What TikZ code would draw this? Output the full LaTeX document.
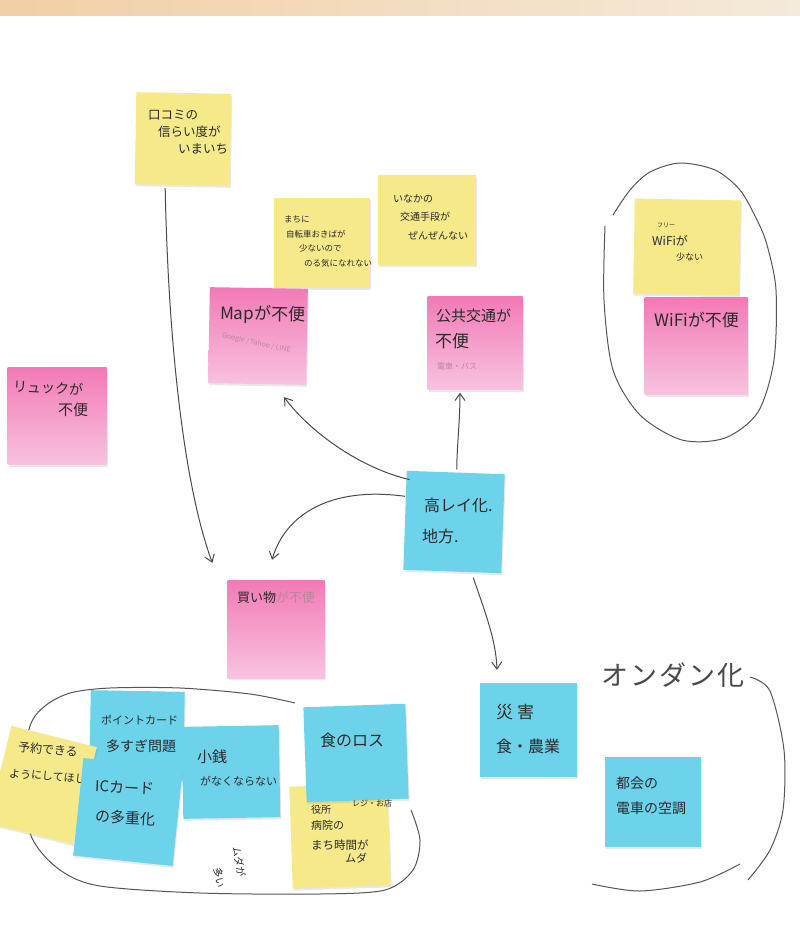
\documentclass[tikz,border=0pt]{standalone}
\usepackage{fontspec}
\setmainfont{Noto Sans CJK JP}
\usetikzlibrary{arrows.meta,shadows,calc}
\definecolor{yel}{HTML}{F6E98A}
\definecolor{pinktop}{HTML}{F27AB6}
\definecolor{pinkbot}{HTML}{F7C3DF}
\definecolor{blu}{HTML}{6DD3EA}
\definecolor{ink}{HTML}{2A2A2A}
\definecolor{faint}{HTML}{B9869F}
\definecolor{bandL}{HTML}{F2CFA5}
\definecolor{bandM}{HTML}{F8E3B8}
\definecolor{bandR}{HTML}{F4EADA}
\tikzset{
  note/.style={minimum width=97pt, minimum height=93pt, inner sep=0pt,
    drop shadow={shadow xshift=1pt, shadow yshift=-2pt, opacity=0.18}},
  ynote/.style={note, fill=yel},
  pnote/.style={note, top color=pinktop, bottom color=pinkbot},
  bnote/.style={note, fill=blu},
  hand/.style={text=ink, align=left, inner sep=0pt, anchor=west},
  fs/.style={font=\fontsize{#1}{#1}\selectfont},
  conn/.style={draw=ink!85, line width=1pt, -{Straight Barb[length=7pt,width=10pt]}},
  penloop/.style={draw=ink!80, line width=1pt},
}
\begin{document}
\begin{tikzpicture}[x=1pt,y=-1pt]
\useasboundingbox (0,0) rectangle (800,929);
\fill[white] (0,0) rectangle (800,929);
\shade[left color=bandL, middle color=bandM, right color=bandR] (0,0) rectangle (800,15);

% hand-drawn loops
\draw[penloop] plot[smooth] coordinates {(605,226) (604,300) (613,370) (640,415) (682,440) (725,438) (758,412) (774,360) (776,290) (767,245) (757,220) (740,190) (715,170) (680,163) (650,172) (630,190) (613,215)};
\draw[penloop] plot[smooth] coordinates {(295,703) (250,694) (180,688) (110,688) (70,693) (45,706) (30,726) (20,780) (32,838) (60,870) (100,886) (200,893) (320,894) (385,890) (413,870) (420,840) (411,810)};
\draw[penloop] plot[smooth] coordinates {(750,677) (770,691) (784,750) (783,810) (770,850) (748,880)};
\draw[penloop] plot[smooth] coordinates {(592,884) (640,891) (700,882) (740,864)};

% sticky notes
\node[ynote, minimum width=95pt, minimum height=92pt, rotate=-1] (kuchikomi) at (183,139) {};
\node[ynote, minimum width=96pt, minimum height=90pt] (machi) at (322,243) {};
\node[ynote, minimum width=98pt, minimum height=90pt] (inaka) at (427,220) {};
\node[ynote, minimum width=106pt, minimum height=95pt, rotate=-1] (freewifi) at (687,247) {};
\node[pnote, minimum width=103pt, minimum height=97pt] (wifi) at (696,346) {};
\node[pnote, minimum width=98pt, minimum height=96pt, rotate=-1] (map) at (258,336) {};
\node[pnote, minimum width=95pt, minimum height=93pt] (koukyou) at (475,343) {};
\node[pnote, minimum width=99pt, minimum height=97pt] (ryukku) at (57,416) {};
\node[bnote, minimum width=98pt, minimum height=99pt, rotate=-2] (kourei) at (454,522) {};
\node[pnote, minimum width=97pt, minimum height=98pt] (kaimono) at (276,629) {};
\node[bnote, minimum width=94pt, minimum height=88pt, rotate=-1] (point) at (137,735) {};
\node[ynote, minimum width=88pt, minimum height=100pt, rotate=-14] (yoyaku) at (42,785) {};
\node[hand, fs=12, rotate=-5] (yoyaku-1) at (18,747) {予約できる};
\node[hand, fs=11, rotate=-5] (yoyaku-2) at (9,773) {ようにしてほしい};
\node[bnote, minimum width=100pt, minimum height=98pt, rotate=-6] (iccard) at (128,812) {};
\node[bnote, minimum width=97pt, minimum height=92pt, rotate=1] (kozeni) at (231,772) {};
\node[ynote, minimum width=98pt, minimum height=102pt, rotate=2] (yakusho) at (340,836) {};
\node[bnote, minimum width=102pt, minimum height=95pt, rotate=2] (shoku) at (356,753) {};
\node[bnote, minimum width=97pt, minimum height=94pt] (saigai) at (528,730) {};
\node[bnote, minimum width=96pt, minimum height=90pt] (tokai) at (653,802) {};

% texts
\node[hand, anchor=north west, font=\fontsize{12.5}{17}\selectfont] (kuchikomi-t) at (148,110)
  {口コミの\\\hspace*{10pt}信らい度が\\\hspace*{30pt}いまいち};
\node[hand, anchor=north west, font=\fontsize{8.5}{14.5}\selectfont] (machi-t) at (284,216)
  {まちに\\\hspace*{2pt}自転車おきばが\\\hspace*{15pt}少ないので\\\hspace*{20pt}のる気になれない};
\node[hand, anchor=north west, font=\fontsize{10}{18.5}\selectfont] (inaka-t) at (393,194)
  {いなかの\\\hspace*{7pt}交通手段が\\\hspace*{15pt}ぜんぜんない};
\node[hand, fs=6] (fw-1) at (657,225) {フリー};
\node[hand, fs=12] (fw-2) at (652,241) {WiFiが};
\node[hand, fs=9] (fw-3) at (676,257) {少ない};
\node[hand, fs=17] (wifi-t) at (654,320) {WiFiが不便};
\node[hand, fs=17, rotate=-1] (map-t) at (220,314) {Mapが不便};
\node[hand, fs=7, text=faint, rotate=-12] (map-f) at (222,336) {Google / Yahoo / LINE};
\node[hand, fs=15] (koukyou-1) at (436,316) {公共交通が};
\node[hand, fs=17] (koukyou-2) at (435,341) {不便};
\node[hand, fs=8, text=faint] (koukyou-f) at (437,366) {電車・バス};
\node[hand, fs=14, rotate=-3] (ryukku-1) at (13,386) {リュックが};
\node[hand, fs=15] (ryukku-2) at (58,410) {不便};
\node[hand, fs=16] (kourei-1) at (424,505) {高レイ化.};
\node[hand, fs=16] (kourei-2) at (422,536) {地方.};
\node[hand, fs=13] (kaimono-t) at (237,598) {買い物\textcolor{faint}{が不便}};
\node[hand, fs=11] (point-1) at (101,720) {ポイントカード};
\node[hand, fs=14] (point-2) at (106,746) {多すぎ問題};
\node[hand, fs=15, rotate=-3] (ic-1) at (95,786) {ICカード};
\node[hand, fs=15, rotate=-3] (ic-2) at (95,816) {の多重化};
\node[hand, fs=15] (kozeni-1) at (197,757) {小銭};
\node[hand, fs=11] (kozeni-2) at (200,781) {がなくならない};
\node[hand, fs=16] (shoku-t) at (320,740) {食のロス};
\node[hand, fs=10] (yakusho-1) at (311,810) {役所};
\node[hand, fs=8] (yakusho-0) at (352,803) {レジ・お店};
\node[hand, fs=11] (yakusho-2) at (311,825) {病院の};
\node[hand, fs=11.5] (yakusho-3) at (311,845) {まち時間が};
\node[hand, fs=11] (yakusho-4) at (345,858) {ムダ};
\node[hand, fs=17] (saigai-1) at (496,712) {災\hspace{4pt}害};
\node[hand, fs=16] (saigai-2) at (496,746) {食・農業};
\node[hand, fs=14] (tokai-1) at (616,783) {都会の};
\node[hand, fs=14] (tokai-2) at (616,808) {電車の空調};
\node[text=ink, fs=10, inner sep=0pt, rotate=-80] (muda-1) at (239,862) {ムダが};
\node[text=ink, fs=10, inner sep=0pt, rotate=-80] (muda-2) at (219,878) {多い};
\node[text=ink!85, fs=27, inner sep=0pt] (ondan) at (673,675) {オ\hspace{2pt}ン\hspace{2pt}ダ\hspace{2pt}ン\hspace{3pt}化};

% arrows
\coordinate (e-kaimono1) at ($(kaimono.north west)+(-15,-17)$);
\coordinate (e-kaimono2) at ($(kaimono.north)+(-4,-20)$);
\coordinate (e-map) at ($(map.south)+(27,13)$);
\coordinate (e-koukyou) at ($(koukyou.south)+(-15,3)$);
\coordinate (e-saigai) at ($(saigai.north)+(-31,-13)$);
\draw[conn] ($(kuchikomi.south)+(-17,3)$) .. controls (168,330) and (182,480) .. (e-kaimono1);
\draw[conn] ($(kourei.west)+(0,-24)$) .. controls (330,486) and (285,515) .. (e-kaimono2);
\draw[conn] ($(kourei.north west)+(3,9)$) .. controls (360,468) and (310,432) .. (e-map);
\draw[conn] ($(kourei.north)+(1,-3)$) .. controls (457,445) and (460,420) .. (e-koukyou);
\draw[conn] ($(kourei.south)+(21,6)$) .. controls (485,612) and (496,640) .. (e-saigai);
\end{tikzpicture}
\end{document}
